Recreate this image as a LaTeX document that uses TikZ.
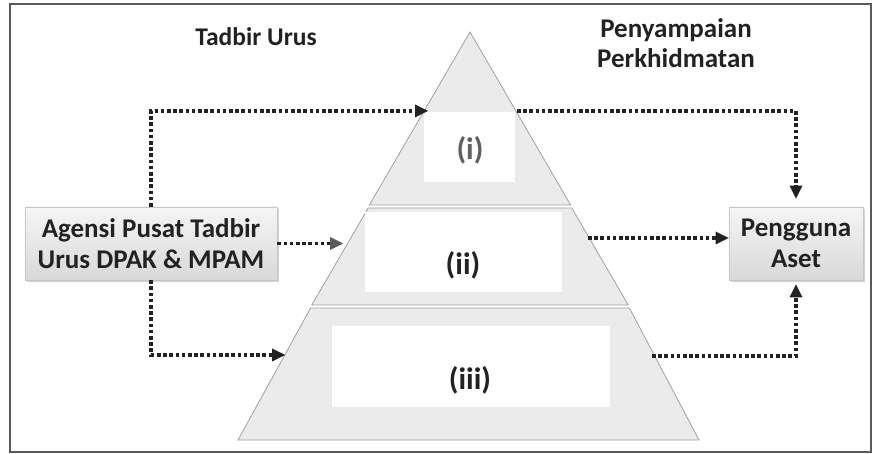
\documentclass[tikz,border=0pt]{standalone}
\usepackage{fontspec}
\setmainfont{Carlito}
\usetikzlibrary{arrows.meta,shadows}
\definecolor{ink}{HTML}{222222}
\definecolor{tierfill}{HTML}{EBEBEB}
\definecolor{tieredge}{HTML}{A0A0A0}
\tikzset{
  dotline/.style={draw=ink,line width=3.6pt,dash pattern=on 3.6pt off 2.6pt,
    -{Triangle[length=13pt,width=13pt,line width=0pt]}},
  boxnode/.style={draw=gray!45,line width=0.6pt,top color=gray!8,bottom color=gray!30,
    drop shadow={shadow xshift=2pt,shadow yshift=-2pt,opacity=0.35},
    align=center,font=\bfseries\fontsize{27}{31}\selectfont,text=ink,inner sep=0pt},
  tier/.style={fill=tierfill,draw=tieredge,line width=0.8pt},
  inner/.style={fill=white,draw=none},
  lab/.style={font=\bfseries\fontsize{31}{34}\selectfont,text=ink},
  head/.style={font=\bfseries\fontsize{25.5}{30}\selectfont,text=ink,align=center}
}
\begin{document}
\begin{tikzpicture}[x=1pt,y=-1pt]
\useasboundingbox (0,0) rectangle (873,454);
\draw[gray!70!black,line width=1.2pt] (10,4) rectangle (871,452);
% pyramid tiers
\path[tier] (470,32) -- (570.6,205) -- (369.4,205) -- cycle;
\path[tier] (368.2,208) -- (571.8,208) -- (628.2,305) -- (311.8,305) -- cycle;
\path[tier] (310.6,308) -- (629.4,308) -- (699,440) -- (238,440) -- cycle;
\path[inner] (424,112) rectangle (515,182);
\path[inner] (365,212) rectangle (562,292);
\path[inner] (332,326) rectangle (610,407);
\node[lab,text=gray!75!black] (ti) at (470,150) {(i)};
\node[lab] (tii) at (463,265) {(ii)};
\node[lab] (tiii) at (470,380) {(iii)};
% headings
\node[head] (gov) at (256,37) {Tadbir Urus};
\node[head,font=\bfseries\fontsize{27}{30}\selectfont] (svc) at (676,43) {Penyampaian\\Perkhidmatan};
% boxes
\node[boxnode,minimum width=252pt,minimum height=73pt] (agency) at (151,243.5) {Agensi Pusat Tadbir\\Urus DPAK \& MPAM};
\node[boxnode,minimum width=134pt,minimum height=73pt] (user) at (796,243.5) {Pengguna\\Aset};
% anchor coordinates on the pyramid
\coordinate (p1l) at (428,111);
\coordinate (p2l) at (343,243.5);
\coordinate (p3l) at (285,355);
\coordinate (p1r) at (517,111);
\coordinate (p2r) at (588,238);
\coordinate (p3r) at (652,356);
% connectors
\draw[dotline] (agency.north) |- (p1l);
\draw[dotline,-{Triangle[length=13pt,width=13pt,line width=0pt,fill=gray!70!black]}] (agency.east) -- (p2l);
\draw[dotline] (agency.south) |- (p3l);
\draw[dotline] (p1r) -| ([yshift=8pt]user.north);
\draw[dotline] (p2r) -- (p2r -| user.west);
\draw[dotline] (p3r) -| ([yshift=-4pt]user.south);
\end{tikzpicture}
\end{document}
